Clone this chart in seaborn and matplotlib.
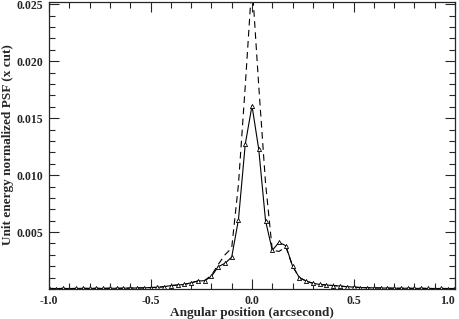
import numpy as np
import pandas as pd
import seaborn as sns
import matplotlib
matplotlib.use("Agg")
import matplotlib.pyplot as plt
from matplotlib.ticker import MultipleLocator

# 数据: 角位置 (arcsec), 采样间隔 1/30
pos = np.arange(-30, 31) / 30.0

# 实线: 测量的 PSF x 方向切片
psf_solid = [
    0.00005, 0.00004, 0.00005, 0.00004, 0.00005, 0.00006, 0.00005, 0.00006, 0.00005, 0.00007,
    0.00006, 0.00007, 0.00008, 0.00009, 0.00010, 0.00013, 0.00015, 0.00020, 0.00030, 0.00035,
    0.00040, 0.00055, 0.00070, 0.00073, 0.00110, 0.00196, 0.00225, 0.00280, 0.00610, 0.01270,
    0.01610,
    0.01225, 0.00600, 0.00340, 0.00410, 0.00380, 0.00200, 0.00100, 0.00070, 0.00050, 0.00040,
    0.00035, 0.00030, 0.00026, 0.00020, 0.00017, 0.00013, 0.00011, 0.00010, 0.00009, 0.00008,
    0.00007, 0.00006, 0.00007, 0.00005, 0.00006, 0.00005, 0.00004, 0.00005, 0.00004, 0.00005,
]

# 虚线: 模型
psf_dashed = [
    0.00005, 0.00004, 0.00005, 0.00004, 0.00005, 0.00006, 0.00005, 0.00006, 0.00005, 0.00007,
    0.00006, 0.00007, 0.00008, 0.00009, 0.00010, 0.00013, 0.00015, 0.00020, 0.00030, 0.00035,
    0.00040, 0.00055, 0.00070, 0.00075, 0.00120, 0.00215, 0.00300, 0.00360, 0.00920, 0.01780,
    0.02700,
    0.01780, 0.00930, 0.00340, 0.00330, 0.00370, 0.00200, 0.00100, 0.00070, 0.00050, 0.00040,
    0.00035, 0.00030, 0.00026, 0.00020, 0.00017, 0.00013, 0.00011, 0.00010, 0.00009, 0.00008,
    0.00007, 0.00006, 0.00007, 0.00005, 0.00006, 0.00005, 0.00004, 0.00005, 0.00004, 0.00005,
]

xticks = [-1.0, -0.5, 0.0, 0.5, 1.0]
yticks = [0.005, 0.010, 0.015, 0.020, 0.025]

df = pd.DataFrame({"pos": pos, "solid": psf_solid, "dashed": psf_dashed})

sns.set_style("ticks")
plt.rcParams["font.family"] = ["Liberation Serif", "DejaVu Serif"]
plt.rcParams["font.weight"] = "bold"
plt.rcParams["axes.unicode_minus"] = False

fig = plt.figure(figsize=(4.59, 3.19), dpi=100)
ax = fig.add_axes([49 / 459, 1 - 289 / 319, 406 / 459, 287 / 319])

sns.lineplot(data=df, x="pos", y="dashed", ax=ax, color="black", lw=0.8,
             linestyle=(0, (6, 4)))
sns.lineplot(data=df, x="pos", y="solid", ax=ax, color="black", lw=0.8,
             marker="^", markersize=3, markerfacecolor="white",
             markeredgecolor="black", markeredgewidth=0.6)

ax.set_xlim(-1.0, 1.0)
ax.set_ylim(0, 0.0252)
ax.set_xticks(xticks, labels=["%.1f" % v for v in xticks])
ax.set_yticks(yticks, labels=["%.3f" % v for v in yticks])
ax.xaxis.set_minor_locator(MultipleLocator(0.1))
ax.yaxis.set_minor_locator(MultipleLocator(0.001))

ax.tick_params(which="both", direction="in", top=True, right=True,
               labelsize=8.5, width=0.8, pad=4)
ax.tick_params(which="major", length=7)
ax.tick_params(which="minor", length=4)
for s in ax.spines.values():
    s.set_linewidth(0.9)

# 最右边的 1.0 靠右对齐, 不被裁掉
ax.get_xticklabels()[-1].set_horizontalalignment("right")

ax.set_xlabel("Angular position (arcsecond)", fontsize=9.5, fontweight="bold", labelpad=0)
ax.set_ylabel("Unit energy normalized PSF (x cut)", fontsize=9.5, fontweight="bold")
ax.yaxis.set_label_coords(-0.086, 0.505)

fig.savefig("out.png", dpi=100, facecolor="white")
